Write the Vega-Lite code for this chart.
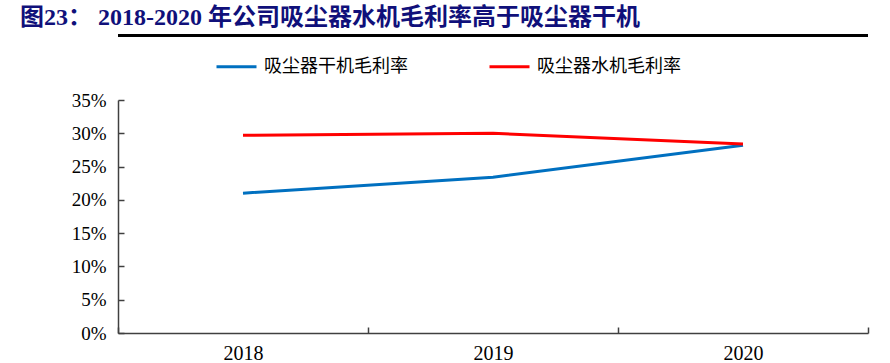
{
  "$schema": "https://vega.github.io/schema/vega-lite/v6.json",
  "autosize": "none",
  "width": 750,
  "height": 233,
  "padding": {"left": 118, "top": 100, "right": 22, "bottom": 30},
  "background": "white",
  "title": {
    "text": "图23：  2018-2020 年公司吸尘器水机毛利率高于吸尘器干机",
    "anchor": "start",
    "frame": "group",
    "dx": -98,
    "offset": 4,
    "font": "Liberation Serif, Noto Sans CJK SC",
    "fontSize": 24,
    "fontWeight": "bold",
    "color": "#10107a"
  },
  "data": {
    "values": [
      {"year": "2018", "series": "吸尘器干机毛利率", "value": 0.210},
      {"year": "2019", "series": "吸尘器干机毛利率", "value": 0.234},
      {"year": "2020", "series": "吸尘器干机毛利率", "value": 0.282},
      {"year": "2018", "series": "吸尘器水机毛利率", "value": 0.297},
      {"year": "2019", "series": "吸尘器水机毛利率", "value": 0.300},
      {"year": "2020", "series": "吸尘器水机毛利率", "value": 0.284}
    ]
  },
  "encoding": {
    "x": {
      "field": "year",
      "type": "ordinal",
      "scale": {"type": "band", "paddingInner": 0, "paddingOuter": 0},
      "axis": {
        "title": null,
        "labelAngle": 0,
        "tickBand": "extent",
        "tickSize": -6,
        "tickColor": "#404040",
        "domainColor": "#404040",
        "domainWidth": 1.5,
        "tickWidth": 1.5,
        "labelFont": "Liberation Serif",
        "labelFontSize": 20,
        "labelColor": "black",
        "labelPadding": 16,
        "grid": false
      }
    },
    "y": {
      "field": "value",
      "type": "quantitative",
      "scale": {"domain": [0, 0.35], "nice": false},
      "axis": {
        "title": null,
        "format": ".0%",
        "values": [0, 0.05, 0.1, 0.15, 0.2, 0.25, 0.3, 0.35],
        "labelOverlap": false,
        "tickSize": -6,
        "tickColor": "#404040",
        "domainColor": "#404040",
        "domainWidth": 1.5,
        "tickWidth": 1.5,
        "labelFont": "Liberation Serif",
        "labelFontSize": 19,
        "labelColor": "black",
        "labelPadding": 18,
        "grid": false
      }
    }
  },
  "layer": [
    {
      "mark": {"type": "line", "strokeWidth": 3},
      "encoding": {
        "color": {
          "field": "series",
          "type": "nominal",
          "scale": {"domain": ["吸尘器干机毛利率", "吸尘器水机毛利率"], "range": ["#0070c0", "#ff0000"]},
          "legend": {
            "title": null,
            "orient": "none",
            "direction": "horizontal",
            "legendX": 97,
            "legendY": -55,
            "symbolType": "stroke",
            "symbolSize": 1600,
            "symbolStrokeWidth": 3,
            "labelFont": "Noto Sans CJK SC",
            "labelFontSize": 18,
            "labelColor": "black",
            "columnPadding": 75,
            "labelOffset": 6
          }
        }
      }
    },
    {
      "mark": {"type": "rule", "color": "black", "strokeWidth": 2.5, "clip": false},
      "encoding": {"y": {"datum": 0.447}, "x": null}
    }
  ],
  "config": {"view": {"stroke": null}}
}
